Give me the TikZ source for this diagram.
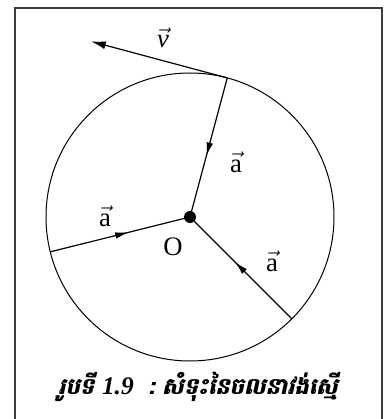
\documentclass[tikz,border=0pt]{standalone}
\usepackage{fontspec}
\usepackage{amsmath}
\setmainfont{Liberation Serif}
\newfontfamily\khmerfont[Script=Khmer, FakeSlant=0.22, BoldFeatures={FakeSlant=0.22}]{Battambang}
\usetikzlibrary{arrows.meta, calc, decorations.markings}
\definecolor{myframe}{RGB}{60,60,60}
\tikzset{
  radius/.style={line width=0.9pt, color=black,
    decoration={markings, mark=at position 0.56 with {\arrow{Latex[length=10pt, width=5pt]}}},
    postaction={decorate}},
  velarrow/.style={-{Latex[length=11pt, width=6pt]}, line width=0.9pt, color=black},
  vlabel/.style={font=\fontsize{20}{24}\selectfont, inner sep=0pt},
  centre/.style={circle, fill=black, minimum size=9pt, inner sep=0pt}
}
\begin{document}
\begin{tikzpicture}[x=0.75pt, y=0.75pt]
  \useasboundingbox (0,0) rectangle (387,419);
  % frame
  \draw[myframe, line width=1.2pt] (15,-5) -- (15,411) -- (382,411) -- (382,-5);

  \node[centre] (O) at (190,202) {};
  \draw[line width=0.75pt] (O.center) circle (144);

  \coordinate (P1) at ($(O.center)+(75:144)$);
  \coordinate (P2) at ($(O.center)+(194:144)$);
  \coordinate (P3) at ($(O.center)+(-45:144)$);
  \coordinate (vtip) at ($(P1)+(165:141)$);

  \draw[radius] (P1) -- (O.center);
  \draw[radius] (P2) -- (O.center);
  \draw[radius] (P3) -- (O.center);
  \draw[velarrow] (P1) -- (vtip);

  % labels
  \node[vlabel] (a1) at (236,257) {$\vec{\text{a}}$};
  \node[vlabel] (a2) at (105,203) {$\vec{\text{a}}$};
  \node[vlabel] (a3) at (272,158) {$\vec{\text{a}}$};
  \node[vlabel] (Olab) at (173,172) {O};
  \node[vlabel] (v) at (163,381) {$\vec{\textit{v}}$};

  % caption
  \node[inner sep=0pt] (cap) at (198,32)
    {\fontsize{17}{20}\selectfont\khmerfont\bfseries រូបទី {\rmfamily\itshape\fontsize{19}{20}\selectfont 1.9}\ \ :\ សំទុះនៃចលនាវង់ស្មើ};
\end{tikzpicture}
\end{document}
